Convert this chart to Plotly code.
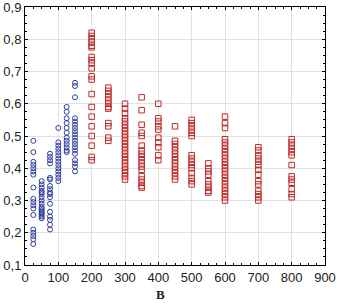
import plotly.graph_objects as go

blue_x = [25, 50, 75, 100, 125, 150]
blue_y = [
    [0.485, 0.45, 0.42, 0.41, 0.40, 0.39, 0.38, 0.34, 0.305, 0.295, 0.285, 0.275, 0.255, 0.21, 0.20, 0.19, 0.18, 0.165],
    [0.36, 0.35, 0.34, 0.33, 0.325, 0.32, 0.31, 0.30, 0.29, 0.28, 0.275, 0.27, 0.265, 0.26, 0.255, 0.25, 0.245],
    [0.445, 0.435, 0.425, 0.415, 0.37, 0.365, 0.345, 0.335, 0.325, 0.32, 0.31, 0.29, 0.265, 0.25, 0.24, 0.225, 0.21],
    [0.525, 0.48, 0.47, 0.46, 0.45, 0.44, 0.43, 0.42, 0.41, 0.40, 0.39, 0.38, 0.37, 0.36],
    [0.59, 0.575, 0.555, 0.54, 0.525, 0.51, 0.495, 0.485, 0.475, 0.465, 0.455, 0.45],
    [0.665, 0.655, 0.62, 0.555, 0.545, 0.535, 0.525, 0.515, 0.505, 0.495, 0.485, 0.475, 0.465, 0.455, 0.445, 0.425, 0.415, 0.405, 0.39],
]

red_x = [200, 250, 300, 350, 400, 450, 500, 550, 600, 700, 800]
red_y = [
    [0.82, 0.81, 0.80, 0.79, 0.78, 0.775, 0.745, 0.735, 0.725, 0.71, 0.685, 0.675, 0.63, 0.59, 0.56, 0.53, 0.50, 0.47, 0.435, 0.425],
    [0.65, 0.64, 0.63, 0.62, 0.61, 0.60, 0.59, 0.585, 0.54, 0.53, 0.495, 0.485],
    [0.60, 0.585, 0.57, 0.555, 0.545, 0.535, 0.525, 0.515, 0.505, 0.495, 0.485, 0.475, 0.465, 0.455, 0.445, 0.435, 0.425, 0.415, 0.405, 0.395, 0.385, 0.375, 0.365],
    [0.62, 0.58, 0.535, 0.51, 0.50, 0.47, 0.455, 0.445, 0.435, 0.425, 0.415, 0.405, 0.395, 0.375, 0.365, 0.355, 0.345, 0.34],
    [0.60, 0.555, 0.545, 0.53, 0.52, 0.495, 0.48, 0.465, 0.44, 0.425],
    [0.53, 0.485, 0.475, 0.465, 0.455, 0.445, 0.435, 0.425, 0.415, 0.405, 0.395, 0.385, 0.375, 0.365],
    [0.55, 0.54, 0.53, 0.52, 0.51, 0.50, 0.44, 0.43, 0.42, 0.41, 0.40, 0.385, 0.37, 0.36, 0.35],
    [0.415, 0.40, 0.39, 0.38, 0.36, 0.35, 0.34, 0.33, 0.325],
    [0.56, 0.54, 0.525, 0.49, 0.48, 0.47, 0.46, 0.45, 0.44, 0.43, 0.42, 0.41, 0.40, 0.39, 0.38, 0.37, 0.36, 0.35, 0.34, 0.33, 0.32, 0.31, 0.30],
    [0.465, 0.455, 0.44, 0.43, 0.42, 0.41, 0.395, 0.38, 0.36, 0.35, 0.33, 0.32, 0.31, 0.30],
    [0.49, 0.48, 0.47, 0.46, 0.45, 0.44, 0.41, 0.375, 0.365, 0.355, 0.335, 0.32, 0.31],
]

x_ticks = [0, 100, 200, 300, 400, 500, 600, 700, 800, 900]
y_ticks = [0.1, 0.2, 0.3, 0.4, 0.5, 0.6, 0.7, 0.8, 0.9]
x_title = "B"


def flatten(xs, ys):
    fx, fy = [], []
    for x, col in zip(xs, ys):
        for v in col:
            fx.append(x)
            fy.append(v)
    return fx, fy


bx, by = flatten(blue_x, blue_y)
rx, ry = flatten(red_x, red_y)

fig = go.Figure()
fig.add_trace(go.Scatter(
    x=bx, y=by, mode="markers",
    marker=dict(symbol="circle-open", size=5, color="#2f3f9f", line=dict(width=1)),
    showlegend=False, cliponaxis=False,
))
fig.add_trace(go.Scatter(
    x=rx, y=ry, mode="markers",
    marker=dict(symbol="square-open", size=5.5, color="#c02a2a", line=dict(width=1)),
    showlegend=False, cliponaxis=False,
))

axis_common = dict(
    showline=True, linecolor="black", linewidth=1, mirror="ticks",
    showgrid=True, gridcolor="#e2e2e2", gridwidth=1,
    ticks="inside", ticklen=3, tickcolor="black",
    zeroline=False, automargin=False, ticklabeloverflow="allow",
    tickfont=dict(family="Liberation Sans, Arial", size=13, color="#222"),
)

fig.update_layout(
    width=337, height=307,
    margin=dict(l=25, r=12, t=7, b=42),
    paper_bgcolor="white", plot_bgcolor="white",
    xaxis=dict(
        range=[0, 900], tickvals=x_ticks, ticktext=[str(t) for t in x_ticks],
        minor=dict(ticks="inside", ticklen=2, tickcolor="black", dtick=25, showgrid=False),
        **axis_common,
    ),
    yaxis=dict(
        range=[0.1, 0.9], tickvals=y_ticks, ticktext=[f"{v:.1f}".replace(".", ",") for v in y_ticks],
        minor=dict(ticks="inside", ticklen=2, tickcolor="black", dtick=0.025, showgrid=False),
        ticklabelstandoff=0,
        **axis_common,
    ),
    annotations=[dict(
        text="<b>" + x_title + "</b>", xref="paper", yref="paper", x=0.45, y=-0.115,
        xanchor="center", yanchor="middle", showarrow=False,
        font=dict(family="Liberation Serif, Times New Roman", size=13, color="#222"),
    )],
)

fig.write_html(
    "out.html",
    config={"displayModeBar": False},
    post_script="document.body.style.margin='0';document.body.style.padding='0';",
)
